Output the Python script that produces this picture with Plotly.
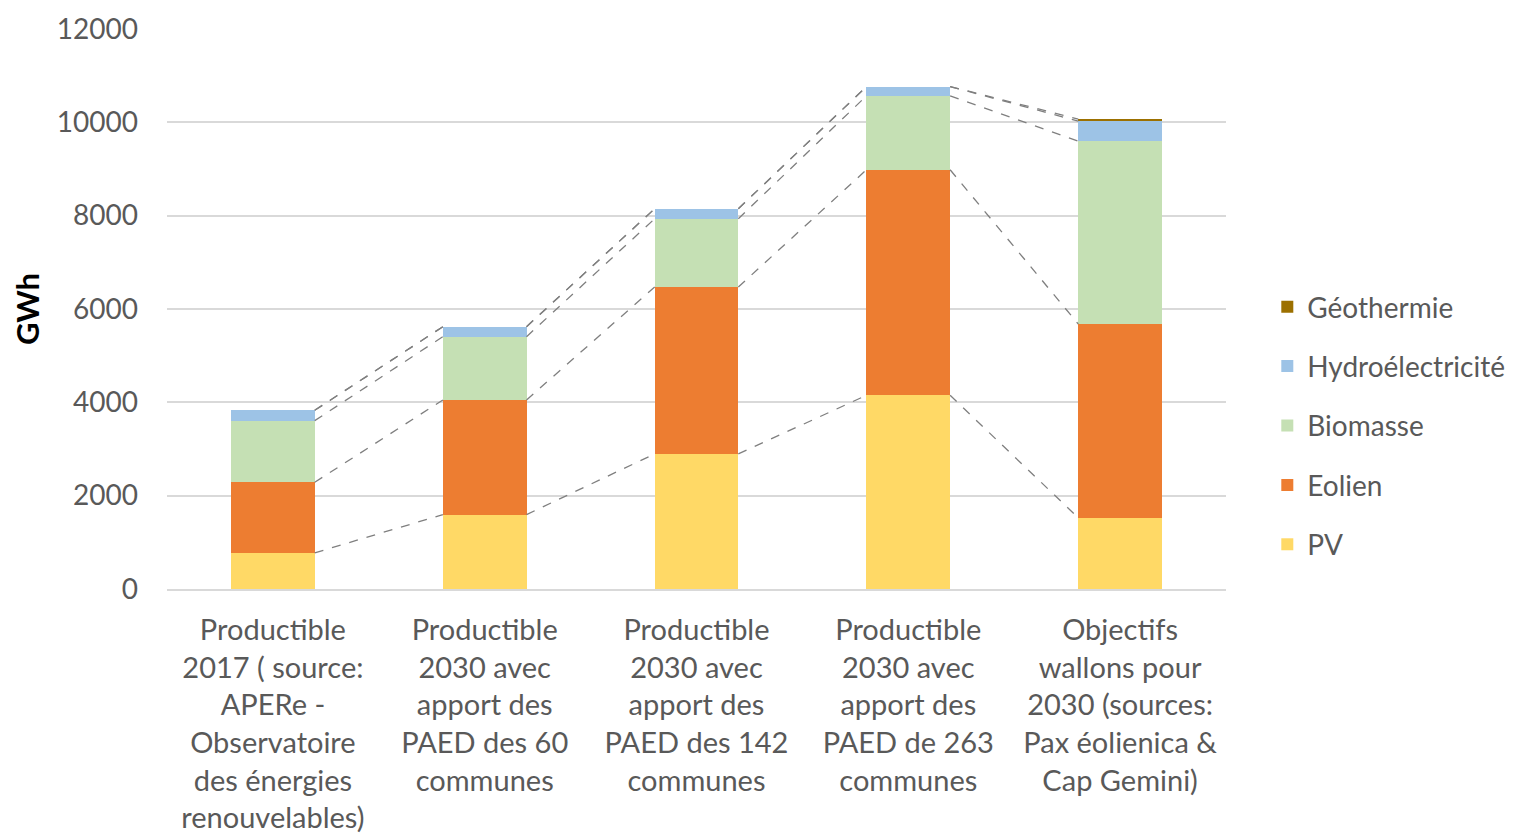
import plotly.graph_objects as go
import numpy as np

categories = [
    "Productible<br>2017 ( source:<br>APERe -<br>Observatoire<br>des énergies<br>renouvelables)",
    "Productible<br>2030 avec<br>apport des<br>PAED des 60<br>communes",
    "Productible<br>2030 avec<br>apport des<br>PAED des 142<br>communes",
    "Productible<br>2030 avec<br>apport des<br>PAED de 263<br>communes",
    "Objectifs<br>wallons pour<br>2030 (sources:<br>Pax éolienica &<br>Cap Gemini)",
]
series_names = ["PV", "Eolien", "Biomasse", "Hydroélectricité", "Géothermie"]
pv = [775, 1595, 2895, 4150, 1525]
eolien = [1512, 2456, 3576, 4833, 4154]
biomasse = [1321, 1356, 1463, 1584, 3918]
hydro = [221, 214, 214, 200, 429]
geo = [0, 0, 0, 0, 43]
colors = ["#FFD966", "#ED7D31", "#C5E0B4", "#9DC3E6", "#9C7000"]
y_ticks = [0, 2000, 4000, 6000, 8000, 10000, 12000]
y_ticktext = ["0", "2000", "4000", "6000", "8000", "10000", "12000"]

FONT = "Lato"
TXT = "#595959"
BAR_W = 0.395

values = [pv, eolien, biomasse, hydro, geo]
x = list(range(len(categories)))

fig = go.Figure()

# connector (series) lines between adjacent bars
cum = np.cumsum(np.array(values, dtype=float), axis=0)
for s in range(len(values)):
    for i in range(len(x) - 1):
        fig.add_trace(go.Scatter(
            x=[x[i] + BAR_W / 2, x[i + 1] - BAR_W / 2],
            y=[cum[s][i], cum[s][i + 1]],
            mode="lines",
            line=dict(color="#7F7F7F", width=1.3, dash="dash"),
            showlegend=False, hoverinfo="skip",
        ))

n = len(series_names)
for k, (name, vals, col) in enumerate(zip(series_names, values, colors)):
    fig.add_trace(go.Bar(
        x=x, y=vals, name=name, width=BAR_W,
        marker=dict(color=col, line=dict(width=0)),
        legendgroup=name, legendrank=n - k,
    ))

fig.update_layout(
    barmode="stack",
    width=1509, height=828,
    margin=dict(l=159, r=291, t=21, b=247, autoexpand=False),
    paper_bgcolor="white", plot_bgcolor="white",
    font=dict(family=FONT, size=29, color=TXT),
    legend=dict(
        x=1.039, y=0.292, xanchor="left", yanchor="middle",
        traceorder="grouped", tracegroupgap=20,
        font=dict(family=FONT, size=28, color=TXT),
        itemwidth=30,
    ),
    showlegend=True,
)
fig.update_xaxes(
    range=[-0.5, 4.5], automargin=False,
    tickmode="array", tickvals=x, ticktext=categories,
    showgrid=False, showline=True, linecolor="#D9D9D9", linewidth=2,
    ticks="", tickfont=dict(family=FONT, size=29, color=TXT),
    ticklabelstandoff=14,
    zeroline=False,
)
fig.update_yaxes(
    range=[0, 12000], automargin=False,
    tickmode="array", tickvals=y_ticks, ticktext=y_ticktext,
    showgrid=True, gridcolor="#D9D9D9", gridwidth=2,
    zeroline=False, showline=False,
    tickfont=dict(family=FONT, size=28, color=TXT),
    ticklabelstandoff=28,
    title=dict(text="<b>GWh</b>", font=dict(family=FONT, size=31, color="black"), standoff=8),
)

fig.write_html("out.html")
